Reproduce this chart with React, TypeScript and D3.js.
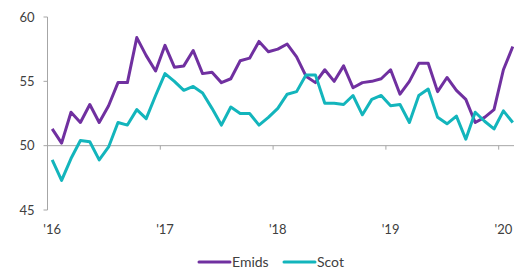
import React, { useEffect, useRef } from "react";
import * as d3 from "d3";

const months = d3.timeMonth.range(new Date(2016, 0, 1), new Date(2020, 2, 1));

const emids = [
  51.3, 50.2, 52.6, 51.8, 53.2, 51.8, 53.1, 54.9, 54.9, 58.4, 57.0, 55.8,
  57.8, 56.1, 56.2, 57.4, 55.6, 55.7, 54.9, 55.2, 56.6, 56.8, 58.1, 57.3,
  57.5, 57.9, 56.9, 55.4, 54.9, 55.9, 55.0, 56.2, 54.5, 54.9, 55.0, 55.2,
  55.9, 54.0, 55.0, 56.4, 56.4, 54.2, 55.3, 54.3, 53.6, 51.8, 52.2, 52.8,
  55.9, 57.7,
];

const scot = [
  48.9, 47.3, 49.0, 50.4, 50.3, 48.9, 49.9, 51.8, 51.6, 52.8, 52.1, 53.9,
  55.6, 55.0, 54.3, 54.6, 54.1, 52.9, 51.6, 53.0, 52.5, 52.5, 51.6, 52.2,
  52.9, 54.0, 54.2, 55.5, 55.5, 53.3, 53.3, 53.2, 53.9, 52.4, 53.6, 53.9,
  53.1, 53.2, 51.8, 53.9, 54.4, 52.2, 51.7, 52.3, 50.5, 52.6, 51.9, 51.3,
  52.7, 51.8,
];

const yTicks = [45, 50, 55, 60];

const seriesList = [
  { name: "Emids", values: emids, color: "#7030A0" },
  { name: "Scot", values: scot, color: "#13B5BC" },
];

const W = 514;
const H = 270;
const FONT = "Lato, 'Noto Sans', sans-serif";

export default function App() {
  const svgRef = useRef<SVGSVGElement>(null);

  useEffect(() => {
    const svg = d3.select(svgRef.current);
    svg.selectAll("*").remove();

    const left = 47.5;
    const step = 9.4;
    const x = d3
      .scaleBand<number>()
      .domain(months.map((_, i) => i))
      .range([left, left + step * months.length])
      .padding(0);

    const y = d3.scaleLinear().domain([45, 60]).range([210, 17]);
    const cx = (i: number) => x(i)! + x.bandwidth() / 2;

    // y axis
    const yAxis = svg.append("g").attr("transform", `translate(${left},0)`);
    yAxis
      .append("line")
      .attr("y1", y(60))
      .attr("y2", y(45))
      .attr("stroke", "#a6a6a6");
    yAxis
      .selectAll("line.tick")
      .data(yTicks)
      .join("line")
      .attr("class", "tick")
      .attr("x1", -4)
      .attr("x2", 0)
      .attr("y1", (d) => y(d))
      .attr("y2", (d) => y(d))
      .attr("stroke", "#a6a6a6");
    yAxis
      .selectAll("text")
      .data(yTicks)
      .join("text")
      .attr("x", -13)
      .attr("y", (d) => y(d))
      .attr("dy", "0.35em")
      .attr("text-anchor", "end")
      .attr("font-family", FONT)
      .attr("font-size", 13)
      .attr("fill", "#404040")
      .text((d) => d);

    // x axis at 50
    const base = y(50);
    svg
      .append("line")
      .attr("x1", left)
      .attr("x2", W)
      .attr("y1", base)
      .attr("y2", base)
      .attr("stroke", "#a6a6a6");

    const yearStarts = months
      .map((m, i) => ({ m, i }))
      .filter((d) => d.m.getMonth() === 0);

    svg
      .selectAll("line.xtick")
      .data(yearStarts)
      .join("line")
      .attr("class", "xtick")
      .attr("x1", (d) => x(d.i)!)
      .attr("x2", (d) => x(d.i)!)
      .attr("y1", base)
      .attr("y2", base + 4)
      .attr("stroke", "#a6a6a6");

    svg
      .selectAll("text.xlab")
      .data(yearStarts)
      .join("text")
      .attr("class", "xlab")
      .attr("x", (d) => cx(d.i))
      .attr("y", 234)
      .attr("text-anchor", "middle")
      .attr("font-family", FONT)
      .attr("font-size", 13)
      .attr("fill", "#404040")
      .text((d) => "'" + d3.timeFormat("%y")(d.m));

    // lines
    const line = d3
      .line<number>()
      .x((_, i) => cx(i))
      .y((d) => y(d));

    seriesList.forEach((s) => {
      svg
        .append("path")
        .datum(s.values)
        .attr("d", line)
        .attr("fill", "none")
        .attr("stroke", s.color)
        .attr("stroke-width", 3)
        .attr("stroke-linejoin", "round");
    });

    // legend
    const legendX = [199, 284];
    const lg = svg
      .selectAll("g.legend")
      .data(seriesList)
      .join("g")
      .attr("class", "legend")
      .attr("transform", (_, i) => `translate(${legendX[i]},262)`);
    lg.append("line")
      .attr("x1", 0)
      .attr("x2", 31)
      .attr("stroke", (d) => d.color)
      .attr("stroke-width", 3)
      .attr("stroke-linecap", "round");
    lg.append("text")
      .attr("x", 33)
      .attr("dy", "0.35em")
      .attr("font-family", FONT)
      .attr("font-size", 14)
      .attr("fill", "#404040")
      .text((d) => d.name);
  }, []);

  return (
    <div style={{ position: "absolute", left: 0, top: 0, background: "#fff" }}>
      <svg ref={svgRef} width={W} height={H} />
    </div>
  );
}
